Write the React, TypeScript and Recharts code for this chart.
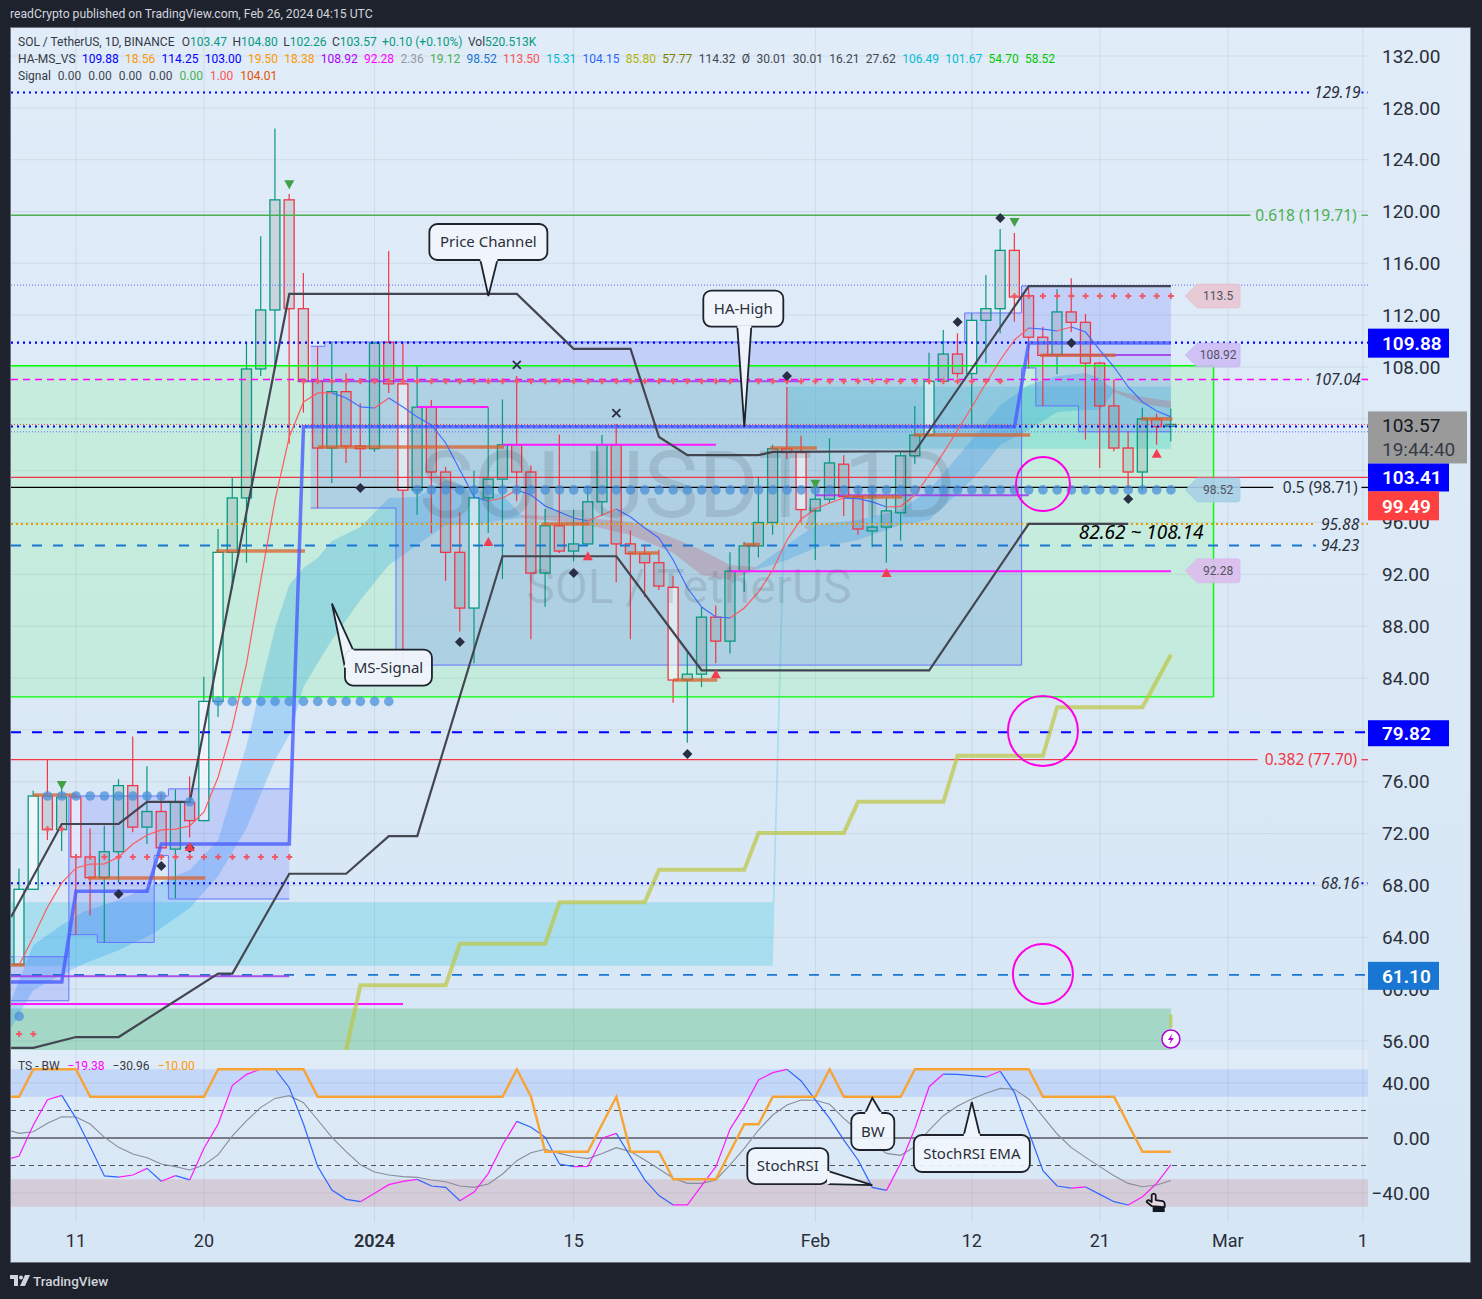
import React from "react";
import {
  ComposedChart, Bar, Line, Area, XAxis, YAxis, CartesianGrid,
  ReferenceLine, ReferenceArea, ReferenceDot,
} from "recharts";

const UI = "Roboto, sans-serif";
const NOTE = "'Noto Sans', sans-serif";

// day index: 0 = Dec 11
const X_MIN = -4.57;
const X_MAX = 90.86;
const Y_MIN = 55.3;
const Y_MAX = 134.16;
const FIRST_DAY = -4;

const opens = [61.9,67.7,74.9,72.3,74.8,70.2,68.6,70.6,75.7,72.5,73.7,70.8,74.4,73,82.2,93.7,97.9,107.85,112.4,120.9,112.5,106.9,101.75,106.1,101.9,101.7,109.9,106.7,98.5,104.9,99.9,93.7,89.4,97.9,99.35,102,99.9,92.1,95.75,93.8,94.35,97.6,102,94.35,93.6,92.9,91,83.85,84.3,88.7,86.85,92.25,94.2,96,101.7,101.4,96.9,97.8,100.5,98,95.35,95.65,96.75,101.15,102.75,106.9,109,107.5,111.6,112.5,117,113.5,110.3,108.9,112.25,111.45,108.3,105,101.75,99.9,104,103.47];
const closes = [67.7,74.9,72.3,74.8,70.2,68.6,70.6,75.7,72.5,73.7,70.9,74.4,73,82.2,93.7,97.9,107.85,112.4,120.9,112.5,106.9,101.75,106.1,101.9,101.7,109.85,106.7,98.5,104.9,99.9,93.7,89.4,97.9,99.35,102,99.9,92.1,95.75,93.8,94.35,97.6,102,94.35,93.6,92.9,91.1,83.85,84.3,88.7,86.85,92.25,94.2,96,101.7,101.4,97,97.8,100.6,98,95.5,95.65,96.9,101.15,102.75,106.9,109,107.5,111.6,112.5,117,113.4,110.3,108.9,112.25,111.45,108.3,105,101.75,99.9,104,103.4,103.57];
const highs = [69.3,75.3,77.75,75.7,75.1,72.4,72.6,76.2,79.5,77.2,75.1,75.4,76.4,84.1,95.5,99.5,109.9,118.1,126.4,121.35,115.25,109.6,109.9,107.5,105.2,109.9,116.95,109.85,108.15,105.45,100.3,96.8,100,104.9,105.5,107.3,100.4,97.05,102.8,97,98.75,102.75,103.6,95.4,94.3,93.9,91.9,86,89.5,89.6,93.7,94.5,99.55,102,106.45,102.7,98.75,102.5,101.2,98.6,98.6,97.9,101.5,105,109.1,110.85,110.6,112.15,115.1,118.65,118.35,114.25,111.1,114,114.85,112.1,108.4,107.05,103.05,104.85,104.4,104.8];
const lows = [61.9,67.7,71.5,70.65,64.2,65.7,63.6,68.2,72.1,71.2,70.9,67,71.7,73,81,90.9,92.9,107.3,108,102.1,104.5,97.1,99.05,100.6,99.5,101.45,106,85,96.6,95.2,91.5,87.6,85.15,95.2,91.65,97.65,87,89.5,93.65,93,94.3,96.5,91.4,87,90.25,90.8,82.1,79,83.3,85.15,85.9,90.65,93.3,95.05,100.9,96,93.1,97.5,96.5,95.05,94.1,92.9,94.6,100.5,102.7,106.8,107.2,103.5,108.3,110.6,111.5,107.9,105,107.45,110.7,102.4,100.2,101.5,98.6,98.4,102,102.26];
const paleBars = [-4,-3,0,9,10,23,28,42,51,60,63];

const candleRows = opens.map((o, i) => ({
  x: FIRST_DAY + i, o, c: closes[i], h: highs[i], l: lows[i], range: [lows[i], highs[i]],
}));

// thin moving average, coloured by direction
const maLine = [61.86,64.02,66.34,68.19,69.35,69.65,69.66,70.19,71.2,71.89,72.28,72.35,72.59,73.67,76.37,80.23,85.16,91.57,97.74,102.6,105.3,106,106.01,105.61,104.92,104.84,105.61,104.92,104.14,103.53,102.14,100.05,97.97,97.66,97.89,98.51,98.13,97.28,96.81,96.35,96.12,96.58,97.05,96.43,95.58,94.81,93.11,90.95,89.48,88.71,88.64,89.41,90.64,92.34,94.65,96.27,97.05,97.51,97.89,97.85,97.59,97.2,97.25,98.13,99.67,101.37,103.14,104.92,106.77,108.54,110.09,111.01,110.93,110.78,111.09,110.7,109.31,108,106.46,105.3,104.61,104.15];

const upperChannel = [[-4.57,65.56],[-1,72.74],[3,72.74],[5,74.44],[8,74.44],[15,113.64],[31,113.64],[35,109.4],[39,109.4],[41,102.6],[43,101.2],[48,101.2],[49,101.45],[59,101.5],[67,114.25],[77,114.25]];
const lowerChannel = [[-4.57,55.46],[-3,55.46],[0,56.3],[3,56.3],[10,61.2],[11,61.2],[15,68.9],[19,68.9],[22,71.8],[24,71.8],[30,93.4],[38,93.4],[44,84.6],[60,84.6],[67,95.9],[74,95.9]];
const haHigh = [[-4.57,60.55],[-1,60.55],[0,67.55],[5,67.55],[6,71.2],[15,71.2],[16,103.4],[66,103.4],[67,109.85],[77,109.85]];
const oliveLine = [[19,55.3],[20,60.3],[26,60.3],[27,63.5],[33,63.5],[34,66.7],[40,66.7],[41,69.2],[47,69.2],[48,72.05],[54,72.05],[55,74.45],[61,74.45],[62,78],[68,78],[69,81.75],[75,81.75],[77,85.8]];
const oliveStub = [[77,57],[77,58.05]];

const msLeft = [[-4.57,59.1,62.5],[-0.5,59.1,62.5],[-0.5,64.2,74.9],[1.5,64.2,74.9],[1.5,63.6,74.9],[5.5,63.6,74.9],[5.5,70.3,74.9],[6.5,70.3,74.9],[6.5,66.95,75.45],[15,66.95,75.45]];
const msMain = [[16.5,97.12,109.6],[17.5,97.12,109.6],[17.5,97.12,109.93],[22.5,97.12,109.93],[22.5,85,109.93],[62.5,85,109.93],[62.5,85,112.17],[66.5,85,112.17],[66.5,107.93,114.25],[67.5,107.93,114.25],[67.5,105,114.25],[70.5,105,114.25],[70.5,103,114.25],[77,103,114.25]];
const cyanBand = [[-4.57,61.8,66.7],[49,61.8,66.7],[50,101.7,106.5],[77,101.7,106.5]];

const ribbonUp1 = [[-4.57,57,59.08],[-3,59.93,63.4],[-1,61.09,64.95],[0.5,61.94,65.95],[3,63,66.88],[5.5,64.33,68.03],[8,66.26,69.19],[10,68.73,71.5],[12,72.43,78.84],[14,77.68,87.86],[15,79.61,91.18],[16,83.31,92.49],[17,85.16,93.26],[18,86.94,94.58],[20,90.02,95.66],[22,92.72,97.89],[24,94.27,97.97],[26,95.81,99.28],[28,95.81,98.51],[30,96.2,98.13],[31.3,96.35,96.58]];
const ribbonDown1 = [[31.3,96.35,96.58],[33,96.2,96.5],[36,95.81,96.35],[39,95.04,96.04],[42,93.65,94.81],[44,91.95,93.88],[46,91.57,92.72],[47.8,92.34,92.57]];
const ribbonUp2 = [[47.8,92.34,92.57],[50,93.11,94.27],[52,94.04,95.81],[55,94.65,96.2],[58,95.81,96.97],[60,96.2,98.51],[63,99.28,102.37],[65,102,105.07],[67,103.14,106.61],[69,104.53,107.31],[71,104.68,107.54],[72,104.68,107.15],[73,106.07,106.23]];
const ribbonDown2 = [[73,106.07,106.23],[75,105.15,105.69],[77,104.84,105.38]];

// thick support segments [from, to, price]
const supportSegs = [[-4.57,-3.6,61.86],[-3,0,74.98],[0.85,9.1,68.58],[9.85,16.1,93.8],[17,30.1,101.83],[32.8,36.1,95.89],[38.8,41,93.65],[42,45.1,83.85],[46.9,48.1,94.3],[48.8,52.1,101.75],[53.9,58.1,97.97],[58.9,67.1,102.75],[67.8,73.1,108.9],[74.9,77.1,104]];
const magentaSegs = [[-4.57,23,58.85],[24,29,104.92],[30,45,102],[46,77,92.25]];
const purpleSegs = [[-4.57,15,61],[15.6,51,106.9],[52,67,98.1],[68,77,108.92]];

const dotsLow = [[-4,57.9]];
const dotsDec = [[-2,74.9],[-1,74.9],[0,74.9],[1,74.9],[2,74.9],[3,74.9],[4,74.9],[5,74.9],[6,74.9],[8,74.45]];
const dotsJan = [10,11,12,13,14,15,16,17,18,19,20,21,22].map((d) => [d, 82.2]);
const dotsMid = Array.from({ length: 54 }, (_, i) => [24 + i, 98.52]);

const plusLow = [[-4,56.54],[-3,56.54],[-2,72.35],[-1,72.35]];
const plusDec = [0,1,2,3,4,5,6,7,8,9,10,11,12,13,14,15].map((d) => [d, 70.2]);
const plusMid = Array.from({ length: 50 }, (_, i) => [16 + i, 106.9]);
const plusTop = [66,67,68,69,70,71,72,73,74,75,76,77].map((d) => [d, 113.48]);

const diamonds = [[3,67.34],[6,69.5],[8,70.89],[20,98.67],[27,86.78],[35,92.11],[43,78.14],[50,107.31],[62,111.47],[65,119.5],[70,109.85],[74,97.82]];
const crosses = [[31,108.16],[38,104.45]];
const greenTriangles = [[-1,75.75],[15,122.1],[52,99],[66,119.2]];
const redTriangles = [[8,70.97],[29,94.5],[36,93.4],[45,84.3],[57,92.1],[76,101.3]];

const priceTicks = [56,60,64,68,72,76,80,84,88,92,96,100,104,108,112,116,120,124,128,132];
// 80, 100 and 104 sit behind the price tags
const axisTicks = priceTicks.filter((t) => t !== 80 && t !== 100 && t !== 104);
const dateTicks = [0,9,21,35,52,63,72,81,90.5];
const dateLabels = ["11","20","2024","15","Feb","12","21","Mar","1"];

// oscillator pane, from day -5
const FIRST_OSC = -5;
const stochRsi = [-16,-13.1,9.5,27.9,31,14.3,-6.3,-27.6,-28.4,-26.9,-22.1,-31.5,-27.4,-30.5,-7.5,10.2,38.3,46.3,50.2,50.19,36.6,10.2,-20.8,-37.8,-44.6,-46.3,-40.2,-33.9,-31.5,-30.1,-34.9,-35.9,-45.6,-39.3,-25.7,-5.1,12.1,7.8,0.5,-18.9,-20.8,-20.7,-0.2,3.4,-13.6,-30.5,-41.9,-48.7,-48.69,-34.7,-20.8,6.5,22.8,42.2,47.5,49.9,41.5,27.6,14.3,-1.5,-16,-35.9,-38.1,-18.4,7,37.3,46.5,46.3,45.3,44.4,48.5,33,4.6,-23.8,-34.9,-36.4,-35.6,-41,-46.3,-48.7,-42.7,-33,-19.38];
const stochEma = [6.5,3.4,4.6,10.7,15.5,15.3,10.2,0.5,-6.8,-11.6,-14.3,-18.9,-20.8,-23.3,-19.6,-12.1,1.5,12.6,22.3,28.8,30.8,25.7,13.1,0.5,-9.9,-19.4,-24.7,-26.9,-28.1,-28.6,-30.5,-31.8,-34.9,-35.9,-33.5,-26.2,-16.5,-10.7,-8.2,-11.2,-13.6,-15,-11.2,-7,-9.9,-16,-22.5,-29.3,-33,-33,-30.5,-19.6,-7.5,5.8,16.7,24,27.6,27.4,24.5,14.3,5.3,-3.9,-11.2,-12.6,-6.3,5.8,16.2,23.3,28.4,32.5,36.1,35.4,28.4,15.5,2.9,-7,-14.1,-20.8,-27.4,-33,-35.4,-34.2,-30.96];
const bwLine = [30,30,50,50,50,50,30,30,30,30,30,30,30,30,30,50,50,50,50,50,50,50,30,30,30,30,30,30,30,30,30,30,30,30,30,30,50,30,-10,-10,-10,-10,10,30,-10,-10,-10,-30,-30,-30,-30,-10,10,10,30,30,30,30,50,30,30,30,30,30,50,50,50,50,50,50,50,50,50,30,30,30,30,30,30,10,-10,-10,-10];
const oscTicks = [-40,0,40];

const ohlcValues = ["103.47","104.80","102.26","103.57"];
const ohlcKeys = ["O","H","L","C"];
const maLegend = ["109.88","18.56","114.25","103.00","19.50","18.38","108.92","92.28","2.36","19.12","98.52","113.50","15.31","104.15","85.80","57.77","114.32","Ø","30.01","30.01","16.21","27.62","106.49","101.67","54.70","58.52"];
const maLegendColors = ["#0000ff","#ff9800","#0000ff","#0000ff","#ff9800","#ff9800","#aa00ff","#ff00ff","#9598a1","#4caf50","#1976d2","#ff5252","#00bcd4","#2962ff","#b5b500","#808000","#434651","#434651","#434651","#434651","#434651","#434651","#00bcd4","#00bcd4","#00c800","#00c800"];
const signalLegend = ["0.00","0.00","0.00","0.00","0.00","1.00","104.01"];
const signalLegendColors = ["#434651","#434651","#434651","#434651","#4caf50","#ff5252","#e65100"];

const xyRows = (pts: number[][]) => pts.map(([x, y]) => ({ x, y }));
const rangeRows = (pts: number[][]) => pts.map(([x, lo, hi]) => ({ x, r: [lo, hi] }));

function directionRuns(values: number[], first: number) {
  const runs: { up: boolean; pts: { x: number; y: number }[] }[] = [];
  for (let i = 1; i < values.length; i++) {
    const up = values[i] >= values[i - 1];
    const last = runs[runs.length - 1];
    const pt = { x: first + i, y: values[i] };
    if (last && last.up === up) last.pts.push(pt);
    else runs.push({ up, pts: [{ x: first + i - 1, y: values[i - 1] }, pt] });
  }
  return runs;
}

const Candle = (p: any) => {
  const { x, y, width, height, payload: c } = p;
  const k = height / (c.h - c.l);
  const mid = x + width / 2;
  const yOf = (v: number) => y + (c.h - v) * k;
  const up = c.c >= c.o;
  const col = up ? "#089981" : "#f23645";
  const top = yOf(Math.max(c.o, c.c));
  const bot = yOf(Math.min(c.o, c.c));
  const pale = paleBars.includes(c.x);
  return (
    <g>
      <line x1={mid} x2={mid} y1={yOf(c.h)} y2={top} stroke={col} strokeWidth={1.2} />
      <line x1={mid} x2={mid} y1={bot} y2={yOf(c.l)} stroke={col} strokeWidth={1.2} />
      <rect x={mid - 5} y={top} width={10} height={Math.max(bot - top, 2)}
        fill={pale ? "#ffffff" : "#5a5a5a"} fillOpacity={pale ? 0.55 : 0.15} stroke={col} strokeWidth={1.3} />
    </g>
  );
};

const seg = (key: string, x1: number, x2: number, y: number, stroke: string, width: number, dash?: string, opacity = 1) => (
  <ReferenceLine key={key} segment={[{ x: x1, y }, { x: x2, y }]} stroke={stroke} strokeWidth={width}
    strokeDasharray={dash} strokeOpacity={opacity} />
);

const poly = (key: string, pts: number[][], stroke: string, width: number, opacity = 1) => (
  <Line key={key} data={xyRows(pts)} dataKey="y" type="linear" stroke={stroke} strokeWidth={width} strokeOpacity={opacity}
    dot={false} activeDot={false} legendType="none" isAnimationActive={false} />
);

const band = (key: string, pts: number[][], fill: string, opacity: number, stroke = "none") => (
  <Area key={key} data={rangeRows(pts)} dataKey="r" type="linear" fill={fill} fillOpacity={opacity} stroke={stroke}
    strokeWidth={1} dot={false} activeDot={false} legendType="none" isAnimationActive={false} />
);

const markers = (key: string, pts: number[][], draw: () => React.ReactElement) => (
  <Line key={key} data={xyRows(pts)} dataKey="y" stroke="none" legendType="none" isAnimationActive={false} activeDot={false}
    dot={(p: any) => <g key={p.index} transform={`translate(${p.cx},${p.cy})`}>{draw()}</g>} />
);

const note = (key: string, x: number, y: number, draw: () => React.ReactElement) => (
  <ReferenceDot key={key} x={x} y={y} r={0}
    shape={(p: any) => <g transform={`translate(${p.cx},${p.cy})`}>{draw()}</g>} />
);

const levelText = (key: string, x: number, y: number, text: string, fill: string, italic = true, size = 15.5) =>
  note(key, x, y, () => (
    <text textAnchor="middle" dy="0.36em" fontFamily={NOTE} fontSize={size} fontStyle={italic ? "italic" : "normal"} fill={fill}>{text}</text>
  ));

const sideTag = (key: string, x: number, y: number, text: string, fill: string, border: string) =>
  note(key, x, y, () => (
    <g>
      <path d="M0,0 L12,-12 H52 Q55,-12 55,-9 V9 Q55,12 52,12 H12 Z" fill={fill} stroke={border} strokeWidth={0.5} fillOpacity={0.9} />
      <text x={33} textAnchor="middle" dy="0.36em" fontFamily={UI} fontSize={12} fill="#50535e">{text}</text>
    </g>
  ));

const priceTag = (key: string, y: number, text: string, fill: string, w: number, top: number, h: number) =>
  note(key, X_MAX, y, () => (
    <g>
      <rect x={0} y={top} width={w} height={h} fill={fill} />
      <text x={14} y={top + h / 2} dy="0.36em" fontFamily={UI} fontSize={19} fontWeight={600} fill="#fff">{text}</text>
    </g>
  ));

// speech bubble: offsets are measured from the tip
const callout = (key: string, x: number, y: number, text: string, box: number[], base: number[]) =>
  note(key, x, y, () => (
    <g>
      <rect x={box[0]} y={box[1]} width={box[2]} height={box[3]} rx={8} fill="#f1f5fc" fillOpacity={0.92} stroke="#1e222d" strokeWidth={1.8} />
      <polygon points={`${base[0]},${base[1]} 0,0 ${base[2]},${base[3]}`} fill="#f1f5fc" fillOpacity={0.92} stroke="none" />
      <polyline points={`${base[0]},${base[1]} 0,0 ${base[2]},${base[3]}`} fill="none" stroke="#1e222d" strokeWidth={1.8} />
      <line x1={base[0]} y1={base[1]} x2={base[2]} y2={base[3]} stroke="#f1f5fc" strokeWidth={2.5} />
      <text x={box[0] + box[2] / 2} y={box[1] + box[3] / 2} textAnchor="middle" dy="0.36em" fontFamily={NOTE} fontSize={15} fill="#2a2e39">{text}</text>
    </g>
  ));

const MainPane = () => (
  <ComposedChart width={1482} height={1050} data={candleRows} margin={{ top: 28, right: 0, bottom: 0, left: 11 }}>
    <XAxis dataKey="x" type="number" domain={[X_MIN, X_MAX]} allowDataOverflow hide ticks={dateTicks} height={0} />
    <YAxis orientation="right" type="number" domain={[Y_MIN, Y_MAX]} allowDataOverflow ticks={axisTicks} width={114} interval={0}
      axisLine={false} tickLine={false} tickSize={0} tickMargin={14} tickFormatter={(v: number) => v.toFixed(2)}
      tick={{ fontFamily: UI, fontSize: 19, fill: "#2a2e39", textAnchor: "start" }} />
    <CartesianGrid stroke="#2a2e39" strokeOpacity={0.08} horizontalValues={priceTicks} verticalValues={dateTicks} />

    {note("wm1", 43, 99, () => <text textAnchor="middle" dy="0.36em" fontFamily={UI} fontSize={92} fill="#2a2e39" fillOpacity={0.13}>SOLUSDT, 1D</text>)}
    {note("wm2", 43.1, 91.1, () => <text textAnchor="middle" dy="0.36em" fontFamily={UI} fontSize={48} fill="#2a2e39" fillOpacity={0.13}>SOL / TetherUS</text>)}

    <ReferenceArea x1={X_MIN} x2={77} y1={Y_MIN} y2={58.5} fill="#2fb35a" fillOpacity={0.3} stroke="none" />
    {band("cyan", cyanBand, "#00bcd4", 0.22)}
    {band("rib1", ribbonUp1, "#2196f3", 0.27)}
    {band("rib2", ribbonDown1, "#f0505a", 0.3)}
    {band("rib3", ribbonUp2, "#2196f3", 0.27)}
    {band("rib4", ribbonDown2, "#f0505a", 0.3)}
    <ReferenceArea x1={X_MIN} x2={80} y1={82.55} y2={108.1} fill="#00ff00" fillOpacity={0.1} stroke="none" />
    {seg("gb1", X_MIN, 80, 108.1, "#00ff00", 1.4)}
    {seg("gb2", X_MIN, 80, 82.55, "#00ff00", 1.4)}
    <ReferenceLine segment={[{ x: 80, y: 82.55 }, { x: 80, y: 108.1 }]} stroke="#00ff00" strokeWidth={1.4} />
    {band("msl", msLeft, "#5a64ff", 0.2, "#6474ff")}
    {band("msm", msMain, "#5a64ff", 0.2, "#6474ff")}

    {seg("l1", X_MIN, 86.8, 129.19, "#0000ff", 2, "2 4")}
    {seg("l1b", 90.4, X_MAX, 129.19, "#0000ff", 2, "2 4")}
    {seg("l2", X_MIN, 82.6, 119.71, "#4caf50", 1.3)}
    {seg("l2b", 90.4, X_MAX, 119.71, "#4caf50", 1.3)}
    {seg("l3", X_MIN, X_MAX, 114.32, "#5b6bff", 1, "1 2")}
    {seg("l4", X_MIN, X_MAX, 109.88, "#0000ff", 2.2, "2 4")}
    {seg("l5", X_MIN, 86.7, 107.04, "#ff00ff", 1.6, "7 5")}
    {seg("l5b", 90.4, X_MAX, 107.04, "#ff00ff", 1.6, "7 5")}
    {seg("l6", X_MIN, X_MAX, 103.57, "#f23645", 1, "1 2")}
    {seg("l7", X_MIN, X_MAX, 103.41, "#0000ff", 2.2, "2 4")}
    {seg("l8", X_MIN, X_MAX, 103, "#5b6bff", 1, "1 2")}
    {seg("l9", X_MIN, X_MAX, 99.49, "#f23645", 1.3)}
    {seg("l10", X_MIN, 84.2, 98.71, "#000000", 1.3)}
    {seg("l10b", 90.4, X_MAX, 98.71, "#000000", 1.3)}
    {seg("l11", X_MIN, 87, 95.88, "#e69a00", 2, "2 3")}
    {seg("l11b", 90.4, X_MAX, 95.88, "#e69a00", 2, "2 3")}
    {seg("l12", X_MIN, 87.2, 94.23, "#1976d2", 1.8, "10 11")}
    {seg("l13", X_MIN, X_MAX, 79.82, "#0000ff", 2.2, "10 11")}
    {seg("l14", X_MIN, 83.1, 77.7, "#f23645", 1.3)}
    {seg("l14b", 90.4, X_MAX, 77.7, "#f23645", 1.3)}
    {seg("l15", X_MIN, 87.1, 68.16, "#0000ff", 2, "2 4")}
    {seg("l15b", 90.4, X_MAX, 68.16, "#0000ff", 2, "2 4")}
    {seg("l16", X_MIN, X_MAX, 61.1, "#1976d2", 1.8, "10 11")}

    {magentaSegs.map((s, i) => seg(`mg${i}`, s[0], s[1], s[2], "#ff1aff", 2))}
    {purpleSegs.map((s, i) => seg(`pp${i}`, s[0], s[1], s[2], "#a02ce8", 2, undefined, 0.8))}
    {supportSegs.map((s, i) => seg(`sp${i}`, s[0], s[1], s[2], "#d9602a", 3.5, undefined, 0.75))}

    {poly("olive", oliveLine, "#bcc640", 4, 0.7)}
    {poly("olive2", oliveStub, "#bcc640", 3, 0.7)}
    {poly("haHigh", haHigh, "#4a5cff", 3.5, 0.8)}
    {poly("upper", upperChannel, "#434651", 2.2)}
    {poly("lower", lowerChannel, "#434651", 2.2)}
    {directionRuns(maLine, FIRST_DAY).map((r, i) => (
      <Line key={`ma${i}`} data={r.pts} dataKey="y" type="linear" stroke={r.up ? "#ff5a5f" : "#3f6dff"} strokeWidth={1.2}
        dot={false} activeDot={false} legendType="none" isAnimationActive={false} />
    ))}

    <Bar dataKey="range" barSize={11} shape={Candle} isAnimationActive={false} legendType="none" />

    {[dotsLow, dotsDec, dotsJan, dotsMid].map((pts, i) =>
      markers(`dots${i}`, pts, () => <circle r={4.8} fill="#4a90d9" fillOpacity={0.75} />))}
    {[plusLow, plusDec, plusMid, plusTop].map((pts, i) =>
      markers(`plus${i}`, pts, () => <path d="M-3,0H3M0,-3V3" stroke="#f05a68" strokeWidth={2} />))}
    {markers("diamonds", diamonds, () => <path d="M0,-5 L5,0 L0,5 L-5,0 Z" fill="#2a2e44" />)}
    {markers("crosses", crosses, () => <path d="M-4,-4L4,4M4,-4L-4,4" stroke="#2a2e44" strokeWidth={1.8} />)}
    {markers("tgreen", greenTriangles, () => <path d="M-5,-4 H5 L0,5 Z" fill="#43a047" />)}
    {markers("tred", redTriangles, () => <path d="M-5,4 H5 L0,-5 Z" fill="#f23d4f" />)}

    <ReferenceDot x={68} y={98.97} r={27} fill="none" stroke="#ff00e6" strokeWidth={2} />
    <ReferenceDot x={68} y={79.92} r={35} fill="none" stroke="#ff00e6" strokeWidth={2} />
    <ReferenceDot x={68} y={61.17} r={30} fill="none" stroke="#ff00e6" strokeWidth={2} />

    {levelText("t1", 88.7, 129.19, "129.19", "#2a2e39")}
    {levelText("t2", 86.5, 119.71, "0.618 (119.71)", "#4caf50", false)}
    {levelText("t3", 88.7, 107.04, "107.04", "#2a2e39")}
    {levelText("t4", 87.5, 98.71, "0.5 (98.71)", "#2a2e39", false)}
    {levelText("t5", 88.9, 95.88, "95.88", "#2a2e39")}
    {levelText("t6", 88.9, 94.23, "94.23", "#2a2e39")}
    {levelText("t7", 86.85, 77.7, "0.382 (77.70)", "#f23645", false)}
    {levelText("t8", 88.9, 68.16, "68.16", "#2a2e39")}
    {levelText("t9", 74.9, 95.26, "82.62 ~ 108.14", "#000000", true, 19)}

    {sideTag("s1", 78, 113.48, "113.5", "#e8c6d0", "#e0b8c4")}
    {sideTag("s2", 78, 108.92, "108.92", "#cdbcf5", "#c4b0f0")}
    {sideTag("s3", 78, 98.52, "98.52", "#a8cfe6", "#9cc6e2")}
    {sideTag("s4", 78, 92.28, "92.28", "#dcbcec", "#d4b0e8")}

    {callout("c1", 29, 113.48, "Price Channel", [-59, -72, 118, 36], [-8, -36, 9, -36])}
    {callout("c2", 47, 103.4, "HA-High", [-41, -136, 80, 36], [-7, -100, 7, -100])}
    {callout("c3", 18, 89.75, "MS-Signal", [13, 46, 87, 36], [21, 46, 13, 64])}

    {note("bolt", 77, 56.15, () => (
      <g>
        <circle r={9} fill="#fff" stroke="#b000d8" strokeWidth={1.5} />
        <path d="M1.5,-5.5 L-3,1 H0 L-1.5,5.5 L3,-1 H0 Z" fill="#b000d8" />
      </g>
    ))}
  </ComposedChart>
);

// price tags go in their own layer so they cover the axis labels
const TagPane = () => (
  <ComposedChart width={1482} height={1050} data={[]} margin={{ top: 28, right: 114, bottom: 0, left: 11 }}>
    <XAxis dataKey="x" type="number" domain={[X_MIN, X_MAX]} allowDataOverflow hide height={0} />
    <YAxis type="number" domain={[Y_MIN, Y_MAX]} allowDataOverflow hide width={0} />
    {priceTag("p1", 109.88, "109.88", "#0000ff", 81, -14, 29)}
    {note("p2", X_MAX, 103.57, () => (
      <g>
        <rect x={0} y={-13} width={99} height={52} fill="#9a9a9a" />
        <text x={14} y={1} dy="0.36em" fontFamily={UI} fontSize={19} fill="#131722">103.57</text>
        <text x={14} y={25} dy="0.36em" fontFamily={UI} fontSize={19} fill="#363a45">19:44:40</text>
      </g>
    ))}
    {priceTag("p3", 103.41, "103.41", "#0000ff", 81, 37, 28)}
    {priceTag("p4", 99.49, "99.49", "#ff4040", 71, 14, 29)}
    {priceTag("p5", 79.82, "79.82", "#0000ff", 81, -12, 26)}
    {priceTag("p6", 61.1, "61.10", "#1976d2", 71, -13, 28)}
  </ComposedChart>
);

const DateTick = (p: any) => {
  const label = dateLabels[dateTicks.indexOf(p.payload.value)];
  return (
    <text x={p.x} y={p.y + 1} dy="0.36em" textAnchor="middle" fontFamily={UI} fontSize={18}
      fontWeight={label === "2024" ? 600 : 400} fill="#2a2e39">{label}</text>
  );
};

const OscTick = (p: any) => (
  <text x={p.x + 48} y={p.y} dy="0.36em" textAnchor="end" fontFamily={UI} fontSize={19} fill="#2a2e39">
    {(p.payload.value < 0 ? "\u2212" : "") + Math.abs(p.payload.value).toFixed(2)}
  </text>
);

const OscPane = () => (
  <ComposedChart width={1482} height={213} margin={{ top: 0, right: 0, bottom: 0, left: 11 }}>
    <XAxis dataKey="x" type="number" domain={[X_MIN, X_MAX]} allowDataOverflow ticks={dateTicks} interval={0} height={41}
      axisLine={false} tickLine={false} tickSize={0} tickMargin={18} tick={DateTick} />
    <YAxis orientation="right" type="number" domain={[-61.09, 64]} allowDataOverflow ticks={oscTicks} width={114} interval={0}
      axisLine={false} tickLine={false} tickSize={0} tickMargin={14} tick={OscTick} />
    <CartesianGrid stroke="#2a2e39" strokeOpacity={0.08} horizontalValues={oscTicks} verticalValues={dateTicks} />
    <ReferenceArea x1={X_MIN} x2={X_MAX} y1={30} y2={50} fill="#2962ff" fillOpacity={0.15} stroke="none" />
    <ReferenceArea x1={X_MIN} x2={X_MAX} y1={-50} y2={-30} fill="#c86464" fillOpacity={0.2} stroke="none" />
    {seg("o1", X_MIN, X_MAX, 20, "#50535e", 1, "5 4")}
    {seg("o2", X_MIN, X_MAX, -20, "#50535e", 1, "5 4")}
    {seg("o3", X_MIN, X_MAX, 0, "#787b86", 2)}
    {poly("ema", stochEma.map((v, i) => [FIRST_OSC + i, v]), "#888e9b", 1.1)}
    {directionRuns(stochRsi, FIRST_OSC).map((r, i) => (
      <Line key={`st${i}`} data={r.pts} dataKey="y" type="linear" stroke={r.up ? "#ff1aff" : "#2f66ff"} strokeWidth={1.2}
        dot={false} activeDot={false} legendType="none" isAnimationActive={false} />
    ))}
    {poly("bw", bwLine.map((v, i) => [FIRST_OSC + i, v]), "#f7a335", 2.4)}
    {callout("c4", 56, 29.1, "BW", [-21, 15, 43, 37], [-7, 15, 9, 15])}
    {callout("c5", 56, -34.2, "StochRSI", [-125, -37, 81, 36], [-44, -14, -44, -1])}
    {callout("c6", 63, 26.2, "StochRSI EMA", [-58, 33, 116, 37], [-8, 33, 8, 33])}
    {note("hand", 76, -47.3, () => (
      <g>
        <path d="M-5,3 L-10,-1 Q-10,-3 -8,-3 L-5,-1 L-5,-8 Q-3,-11 -1,-8 L-1,-3 L6,-2 Q8,-1 8,1 L8,4 Z"
          fill="#e8d8e0" stroke="#131722" strokeWidth={1.8} strokeLinejoin="round" />
        <rect x={-4} y={4} width={12} height={5} fill="#131722" />
      </g>
    ))}
  </ComposedChart>
);

const row: React.CSSProperties = {
  position: "absolute", left: 18, display: "flex", gap: 5, fontFamily: UI, fontSize: 12, lineHeight: "14px",
  whiteSpace: "nowrap", color: "#363a45",
};

export default function App() {
  return (
    <div style={{ position: "absolute", left: 0, top: 0, width: 1482, height: 1299, background: "#1e222d", overflow: "hidden" }}>
      <div style={{ position: "absolute", left: 10, top: 7, fontFamily: UI, fontSize: 12.2, color: "#d1d4dc", whiteSpace: "nowrap" }}>
        readCrypto published on TradingView.com, Feb 26, 2024 04:15 UTC
      </div>
      <div style={{ position: "absolute", left: 10, top: 27, width: 1461, height: 1236, border: "1px solid #6f7380", boxSizing: "border-box",
        background: "linear-gradient(#e0ecf8, #d6e6f5)" }} />
      <div style={{ position: "absolute", left: 11, top: 1050, width: 1357, height: 172, background: "linear-gradient(#e0ecf8, #d6e6f5)" }} />
      <div style={{ position: "absolute", left: 0, top: 0 }}><MainPane /></div>
      <div style={{ position: "absolute", left: 0, top: 0 }}><TagPane /></div>
      <div style={{ position: "absolute", left: 0, top: 1050 }}><OscPane /></div>

      <div style={{ ...row, top: 35, gap: 5.4 }}>
        <span style={{ marginRight: 2 }}>SOL / TetherUS, 1D, BINANCE</span>
        {ohlcValues.map((v, i) => (
          <span key={i}>{ohlcKeys[i]}<span style={{ color: "#089981" }}>{v}</span></span>
        ))}
        <span style={{ color: "#089981" }}>+0.10 (+0.10%)</span>
        <span>Vol<span style={{ color: "#089981" }}>520.513K</span></span>
      </div>
      <div style={{ ...row, top: 52, gap: 6.3 }}>
        <span>HA-MS_VS</span>
        {maLegend.map((v, i) => <span key={i} style={{ color: maLegendColors[i] }}>{v}</span>)}
      </div>
      <div style={{ ...row, top: 69, gap: 7 }}>
        <span>Signal</span>
        {signalLegend.map((v, i) => <span key={i} style={{ color: signalLegendColors[i] }}>{v}</span>)}
      </div>
      <div style={{ ...row, top: 1059, gap: 8 }}>
        <span>TS - BW</span>
        <span style={{ color: "#ff00ff" }}>{"\u221219.38"}</span>
        <span>{"\u221230.96"}</span>
        <span style={{ color: "#ff9800" }}>{"\u221210.00"}</span>
      </div>

      <svg style={{ position: "absolute", left: 10, top: 1274 }} width={20} height={14} viewBox="0 0 20 14">
        <path d="M0,1 H8 V12 H4 V5 H0 Z M15,1 H20 L15,12 H10 Z" fill="#d1d4dc" />
        <circle cx="11" cy="3.5" r="2" fill="#d1d4dc" />
      </svg>
      <div style={{ position: "absolute", left: 33, top: 1273, fontFamily: UI, fontSize: 13.5, fontWeight: 500, color: "#d1d4dc" }}>TradingView</div>
    </div>
  );
}
